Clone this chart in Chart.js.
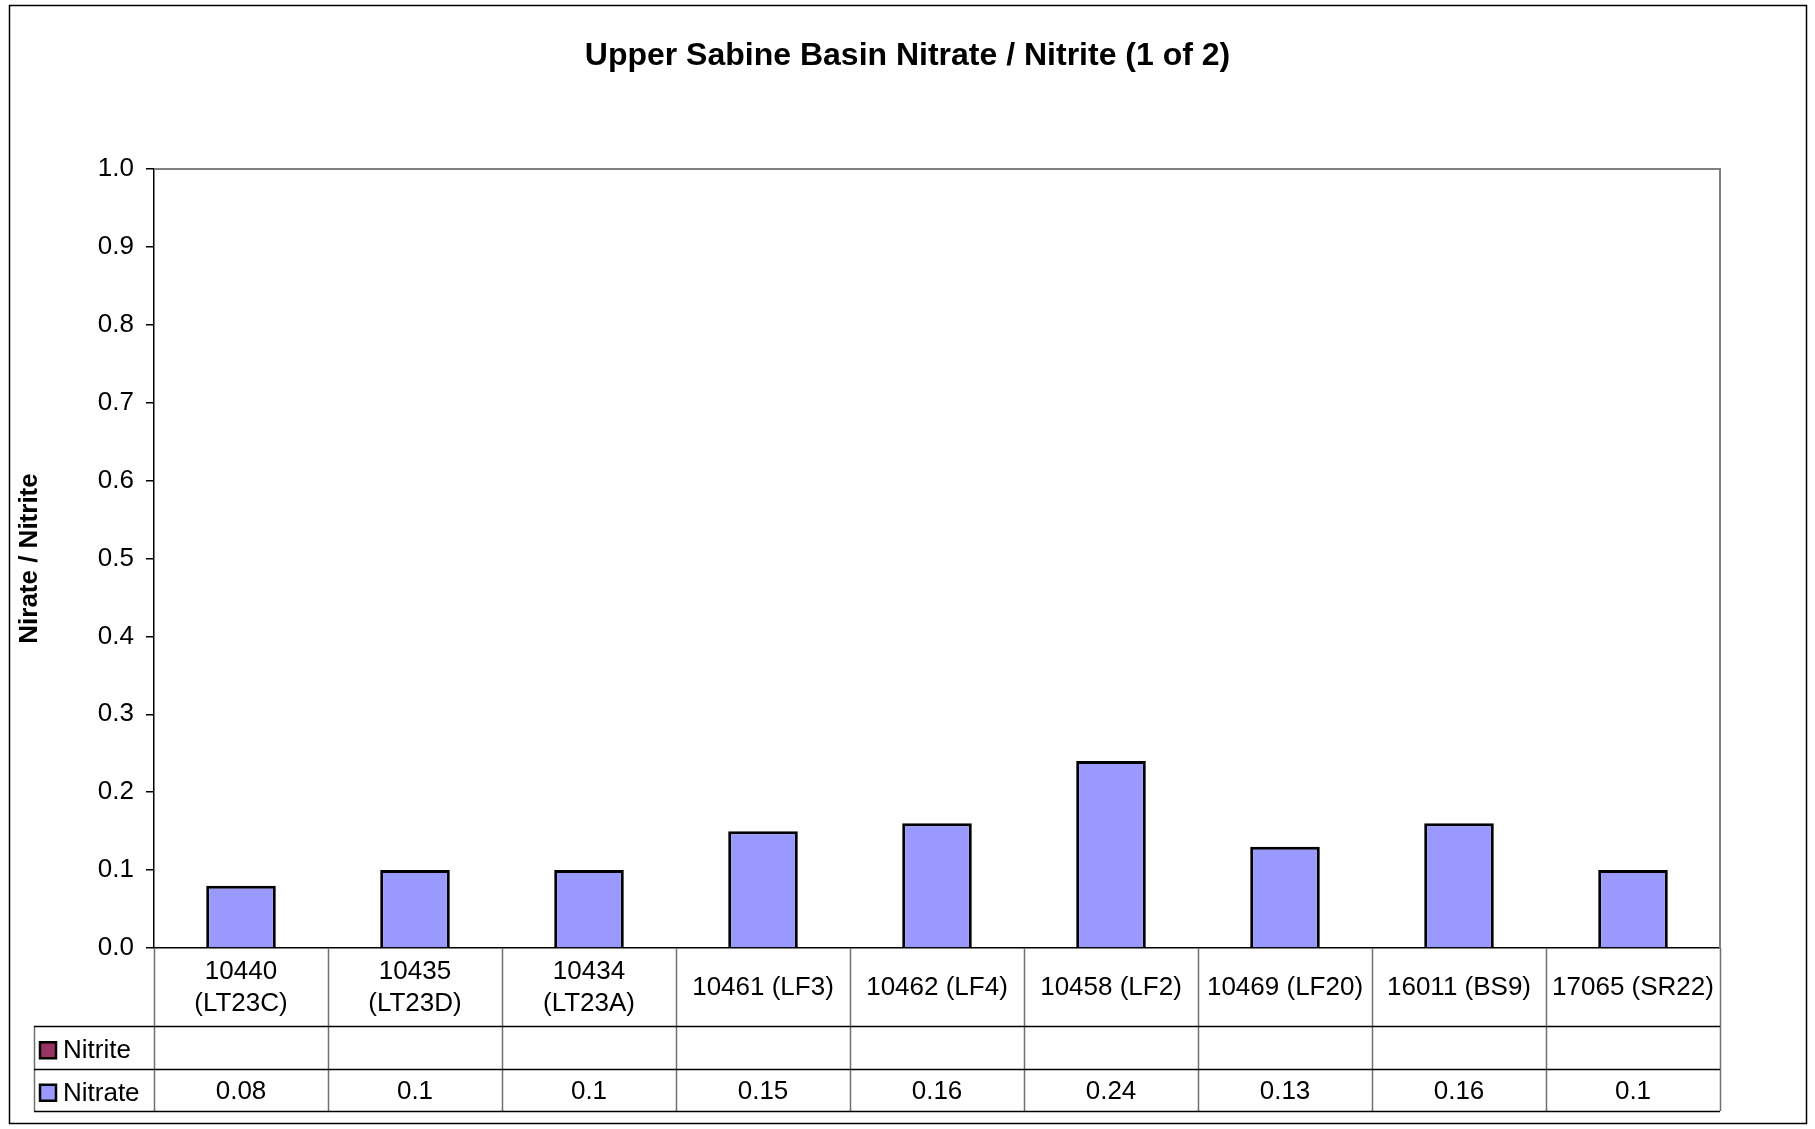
<!DOCTYPE html>
<html>
<head>
<meta charset="utf-8">
<title>Upper Sabine Basin Nitrate / Nitrite</title>
<script src="https://cdn.jsdelivr.net/npm/chart.js@4.4.1/dist/chart.umd.min.js"></script>
<style>
    html, body { margin: 0; padding: 0; background: #fff; overflow: hidden; }
    #wrap { position: relative; width: 1815px; height: 1129px; }
</style>
</head>
<body>
<div id="wrap"><canvas id="nitrateChart"></canvas></div>
<script>
// Station labels (multi-line where the original wraps)
const stations = [
    ['10440', '(LT23C)'],
    ['10435', '(LT23D)'],
    ['10434', '(LT23A)'],
    '10461 (LF3)',
    '10462 (LF4)',
    '10458 (LF2)',
    '10469 (LF20)',
    '16011 (BS9)',
    '17065 (SR22)'
];
const nitriteValues = [null, null, null, null, null, null, null, null, null];
const nitrateValues = [0.08, 0.1, 0.1, 0.15, 0.16, 0.24, 0.13, 0.16, 0.1];
const yTicks = { min: 0, max: 1, step: 0.1 };

const FONT = "'Liberation Sans', Arial, sans-serif";
const nitriteColor = '#993366';
const nitrateColor = '#9999FF';

// Draws plot frame, data table under the x axis and the outer chart border
const dataTablePlugin = {
    id: 'dataTable',
    afterDraw(chart) {
        const ctx = chart.ctx;
        const area = chart.chartArea;
        const xScale = chart.scales.x;
        const n = stations.length;
        const colW = (area.right - area.left) / n;
        const rowH = 42.5;
        const catBottom = xScale.bottom;
        const tableBottom = catBottom + rowH * 2;
        const legendLeft = 34;

        ctx.save();

        // plot frame (top and right)
        ctx.strokeStyle = '#808080';
        ctx.lineWidth = 2;
        ctx.beginPath();
        ctx.moveTo(area.left, area.top);
        ctx.lineTo(area.right, area.top);
        ctx.lineTo(area.right, area.bottom);
        ctx.stroke();

        // vertical table lines
        ctx.strokeStyle = '#707070';
        ctx.lineWidth = 1.5;
        ctx.beginPath();
        for (let i = 1; i <= n; i++) {
            const xx = Math.round(area.left + i * colW) + 0.5;
            ctx.moveTo(xx, area.bottom);
            ctx.lineTo(xx, tableBottom);
        }
        ctx.moveTo(area.left + 0.5, area.bottom);
        ctx.lineTo(area.left + 0.5, tableBottom);
        ctx.moveTo(legendLeft + 0.5, catBottom);
        ctx.lineTo(legendLeft + 0.5, tableBottom);
        ctx.stroke();

        // horizontal table lines
        ctx.strokeStyle = '#000';
        ctx.lineWidth = 1.5;
        ctx.beginPath();
        [catBottom, catBottom + rowH, tableBottom].forEach(function (yy) {
            ctx.moveTo(legendLeft, Math.round(yy) + 0.5);
            ctx.lineTo(area.right, Math.round(yy) + 0.5);
        });
        ctx.stroke();

        // legend keys and series names
        const rows = [
            { name: 'Nitrite', color: nitriteColor, values: nitriteValues },
            { name: 'Nitrate', color: nitrateColor, values: nitrateValues }
        ];
        ctx.font = '26px ' + FONT;
        ctx.textBaseline = 'middle';
        rows.forEach(function (row, r) {
            const cy = catBottom + rowH * r + rowH / 2;
            ctx.fillStyle = row.color;
            ctx.fillRect(40, cy - 5, 16, 16);
            ctx.strokeStyle = '#000';
            ctx.lineWidth = 2.5;
            ctx.strokeRect(40, cy - 5, 16, 16);
            ctx.fillStyle = '#000';
            ctx.textAlign = 'left';
            ctx.fillText(row.name, 63, cy + 4);
            ctx.textAlign = 'center';
            row.values.forEach(function (v, i) {
                if (v === null) return;
                ctx.fillText(String(v), xScale.getPixelForValue(i), cy + 2);
            });
        });

        // outer chart border
        ctx.strokeStyle = '#000';
        ctx.lineWidth = 1.5;
        ctx.strokeRect(9.5, 5.5, 1797, 1118);

        ctx.restore();
    }
};

const ctx = document.getElementById('nitrateChart').getContext('2d');
new Chart(ctx, {
    type: 'bar',
    data: {
        labels: stations,
        datasets: [
            {
                label: 'Nitrite',
                data: nitriteValues,
                backgroundColor: nitriteColor,
                borderColor: '#000',
                borderWidth: 3,
                grouped: false,
                barPercentage: 0.4,
                categoryPercentage: 1
            },
            {
                label: 'Nitrate',
                data: nitrateValues,
                backgroundColor: nitrateColor,
                borderColor: '#000',
                borderWidth: 3,
                grouped: false,
                barPercentage: 0.4,
                categoryPercentage: 1
            }
        ]
    },
    options: {
        responsive: true,
        maintainAspectRatio: false,
        animation: false,
        layout: {
            padding: { left: 9, right: 9, top: 0, bottom: 103 }
        },
        plugins: {
            legend: { display: false },
            tooltip: { enabled: false },
            title: {
                display: true,
                text: 'Upper Sabine Basin Nitrate / Nitrite (1 of 2)',
                color: '#000',
                font: { family: FONT, size: 32, weight: 'bold' },
                padding: { top: 37, bottom: 93.6 }
            }
        },
        scales: {
            x: {
                grid: { display: false },
                border: { display: true, color: '#000', width: 1.5 },
                ticks: {
                    color: '#000',
                    font: { family: FONT, size: 26, lineHeight: 1.23 },
                    padding: 16,
                    crossAlign: 'center',
                    maxRotation: 0,
                    autoSkip: false
                },
                afterFit(scale) { scale.height = 78; }
            },
            y: {
                min: yTicks.min,
                max: yTicks.max,
                grid: {
                    drawOnChartArea: false,
                    drawTicks: true,
                    tickLength: 8,
                    color: '#000',
                    lineWidth: 1.5
                },
                border: { display: true, color: '#000', width: 1.5 },
                ticks: {
                    stepSize: yTicks.step,
                    color: '#000',
                    padding: 12,
                    font: { family: FONT, size: 26 },
                    callback: function (v) { return Number(v).toFixed(1); }
                },
                title: {
                    display: true,
                    text: 'Nirate / Nitrite',
                    color: '#000',
                    font: { family: FONT, size: 26, weight: 'bold' },
                    padding: { top: 5, bottom: 4 }
                },
                afterFit(scale) { scale.width = 145; }
            },
            yRight: {
                position: 'right',
                display: true,
                grid: { display: false },
                border: { display: false },
                ticks: { display: false },
                afterFit(scale) { scale.width = 86; }
            }
        }
    },
    plugins: [dataTablePlugin]
});
</script>
</body>
</html>
